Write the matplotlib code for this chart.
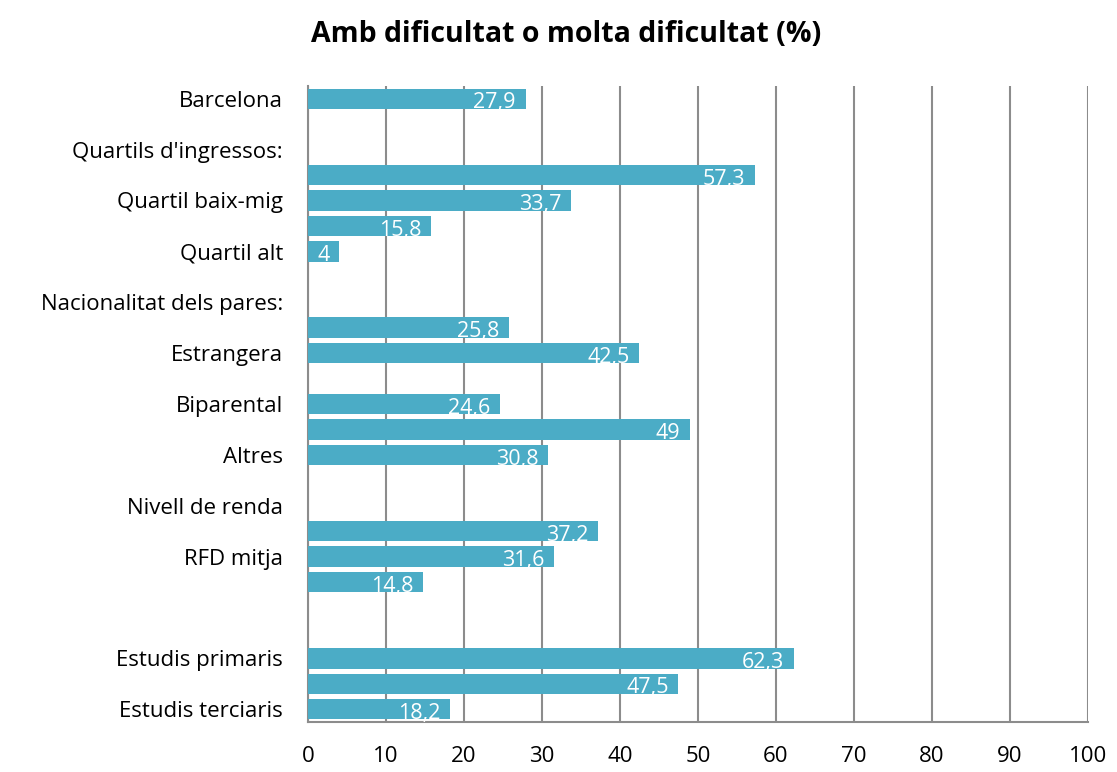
import numpy as np
from matplotlib import pyplot as plt

# one entry per row, top to bottom; None = empty row
row_labels = [
    "Barcelona", "", "Quartils d'ingressos:", "", "Quartil baix-mig", "",
    "Quartil alt", "", "Nacionalitat dels pares:", "", "Estrangera", "",
    "Biparental", "", "Altres", "", "Nivell de renda", "", "RFD mitja", "",
    "", "", "Estudis primaris", "", "Estudis terciaris",
]
values = [
    27.9, None, None, 57.3, 33.7, 15.8, 4, None, None, 25.8, 42.5, None,
    24.6, 49, 30.8, None, None, 37.2, 31.6, 14.8, None, None, 62.3, 47.5, 18.2,
]
x_ticks = [0, 10, 20, 30, 40, 50, 60, 70, 80, 90, 100]

plt.rcParams["font.family"] = ["Open Sans", "DejaVu Sans"]

bar_color = "#4BACC6"
grid_color = "#8c8c8c"

fig = plt.figure(figsize=(11.17, 7.72), dpi=100)
ax = fig.add_axes([0.2757, 0.0648, 0.6983, 0.8238])

y_pos = np.arange(len(values))
for y, v in zip(y_pos, values):
    if v is None:
        continue
    ax.barh(y, v, height=0.8, color=bar_color, zorder=3)
    label = f"{v:g}".replace(".", ",")
    ax.annotate(label, xy=(v, y), xytext=(-7, -3), textcoords="offset points",
                ha="right", va="center", color="white", fontsize=15.5, zorder=4)

ax.set_ylim(len(values) - 0.5, -0.5)
ax.set_xlim(0, 100)
ax.set_yticks(y_pos)
ax.set_yticklabels(row_labels, fontsize=16)
ax.set_xticks(x_ticks)
ax.set_xticklabels([str(t) for t in x_ticks], fontsize=16)
ax.tick_params(axis="y", length=0, pad=18)
ax.tick_params(axis="x", length=0, pad=17)

ax.grid(axis="x", color=grid_color, linewidth=1.5, zorder=0)
for side in ["top", "right"]:
    ax.spines[side].set_visible(False)
for side in ["left", "bottom"]:
    ax.spines[side].set_color(grid_color)
    ax.spines[side].set_linewidth(1.5)

fig.text(0.507, 0.955, "Amb dificultat o molta dificultat (%)",
         ha="center", va="center", fontsize=20.5, fontweight="bold")

fig.savefig("out.png", dpi=100)
